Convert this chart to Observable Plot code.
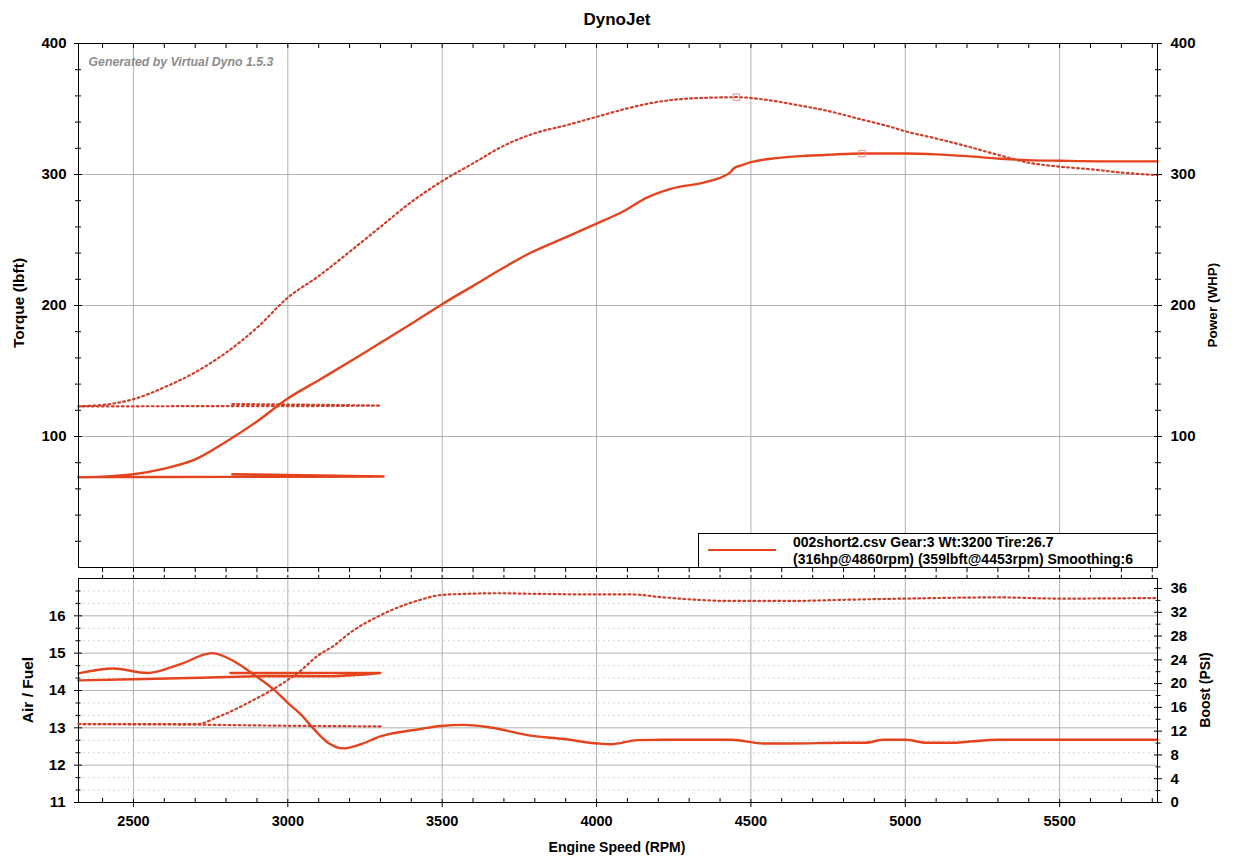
<!DOCTYPE html>
<html>
<head>
<meta charset="utf-8">
<script src="https://cdn.jsdelivr.net/npm/d3@7"></script>
<script src="https://cdn.jsdelivr.net/npm/@observablehq/plot@0.6"></script>
<style>
  body { margin: 0; background: #fff; }
  #wrap { position: relative; width: 1234px; height: 866px; font-family: "Liberation Sans", Arial, sans-serif; font-weight: bold; color: #000; overflow: hidden; }
  #wrap svg.plot { position: absolute; left: 0; }
  .lbl { position: absolute; white-space: nowrap; font-weight: bold; }
  .rot { transform: translate(-50%, -50%) rotate(-90deg); }
</style>
</head>
<body>
<div id="wrap"></div>
<script>
// ---------- data ----------
const rpmDomain = [2322, 5817];
const rpmMajor = [2500, 3000, 3500, 4000, 4500, 5000, 5500];

// Torque (dotted) – return trace at low rpm, then the pull
const torqueRetRpm  = [2820, 3050, 3300, 3050, 2820, 2600, 2322];
const torqueRetLbft = [124.8, 124.3, 123.6, 123.2, 123.2, 123.1, 123.0];
const torqueRunRpm  = [2322, 2430, 2500, 2600, 2700, 2800, 2900, 3000, 3100, 3200, 3300, 3400, 3500, 3600, 3700, 3800, 3900, 4000, 4100, 4200, 4300, 4350, 4453, 4550, 4650, 4750, 4850, 4950, 5000, 5100, 5200, 5300, 5400, 5500, 5600, 5700, 5817];
const torqueRunLbft = [123.0, 125.0, 128.5, 137.5, 149, 164, 183, 206, 222.5, 241, 260, 279, 295, 308.5, 322, 331.5, 337.5, 344, 350.5, 355.5, 358, 358.5, 359, 357, 353, 348.5, 342.5, 336.5, 333, 327.5, 321.5, 315, 309, 306, 304, 301.5, 299.5];

// Power (solid)
const powerRetRpm = [2820, 3050, 3310, 3050, 2820, 2600, 2322];
const powerRetHp  = [71.2, 70.5, 69.5, 69.2, 69.2, 69.1, 69.0];
const powerRunRpm = [2322, 2400, 2500, 2600, 2700, 2800, 2900, 3000, 3100, 3200, 3300, 3400, 3500, 3600, 3700, 3780, 3900, 4000, 4080, 4165, 4240, 4350, 4410, 4430, 4446, 4470, 4500, 4565, 4660, 4760, 4860, 5000, 5100, 5200, 5310, 5400, 5500, 5650, 5817];
const powerRunHp  = [69.0, 69.4, 71.2, 75.5, 82.5, 96, 111.5, 129, 143, 157, 171.5, 186, 201, 215, 229, 239.5, 252, 262.5, 271, 282.5, 289, 294, 298.5, 301, 305, 307, 309.4, 312, 314, 315.2, 316, 316, 315.4, 314, 312, 311, 310.5, 310, 310];

// Peaks (markers + legend)
const peakTorque = {rpm: 4453, v: 359};
const peakPower  = {rpm: 4860, v: 316};

// Air / Fuel (solid)
const afRetRpm = [2814, 3050, 3300, 3250, 3150, 2934, 2717, 2500, 2322];
const afRetVal = [14.47, 14.47, 14.47, 14.43, 14.38, 14.39, 14.34, 14.30, 14.27];
const afRunRpm = [2322, 2435, 2545, 2650, 2755, 2824, 2889, 2954, 3000, 3042, 3084, 3129, 3181, 3236, 3300, 3430, 3495, 3570, 3657, 3787, 3894, 4004, 4046, 4133, 4218, 4435, 4542, 4629, 4800, 4870, 4930, 5000, 5070, 5150, 5250, 5300, 5817];
const afRunVal = [14.46, 14.59, 14.47, 14.70, 15.00, 14.79, 14.43, 14.03, 13.67, 13.36, 12.97, 12.61, 12.45, 12.56, 12.77, 12.97, 13.05, 13.08, 13.01, 12.79, 12.70, 12.58, 12.56, 12.67, 12.68, 12.68, 12.58, 12.58, 12.60, 12.60, 12.68, 12.68, 12.60, 12.60, 12.66, 12.68, 12.68];

// Boost (dotted)
const boostRetRpm = [3300, 3000, 2700, 2322];
const boostRetPsi = [12.8, 12.9, 13.1, 13.2];
const boostRunRpm = [2322, 2500, 2707, 2772, 2880, 2988, 3042, 3097, 3150, 3203, 3300, 3430, 3495, 3580, 3680, 3800, 4004, 4111, 4218, 4435, 4629, 4800, 5000, 5300, 5500, 5817];
const boostRunPsi = [13.2, 13.2, 13.2, 14.35, 17.0, 20.2, 22.2, 24.7, 26.4, 28.6, 31.5, 34.1, 34.9, 35.1, 35.2, 35.1, 35.0, 35.0, 34.5, 33.9, 33.9, 34.1, 34.3, 34.5, 34.3, 34.4];

// axes / ticks
const torqueTicks = [100, 200, 300, 400];
const afTicks = [11, 12, 13, 14, 15, 16];
const boostTicks = [0, 4, 8, 12, 16, 20, 24, 28, 32, 36];
const runInfo = {file: "002short2.csv", gear: 3, wt: 3200, tire: 26.7, smoothing: 6};

// ---------- styling ----------
const RED = "#e5431d";
const REDDOT = "#cf3e28";
const GRID = "#b2b2b2";
const FONT = '"Liberation Sans", Arial, sans-serif';
const DOTS = {strokeWidth: 2.2, strokeDasharray: "1.8,3.2"};
const tbl = (xs, ys) => xs.map((x, i) => ({rpm: x, v: ys[i]}));
const minor = (lo, hi, step, skip) => d3.range(lo, hi + step / 2, step).map(v => +v.toFixed(4)).filter(v => !skip.some(s => Math.abs(s - v) < 1e-6));
const blank = () => "";
const plain = d => String(d);
const svgStyle = {fontFamily: FONT, fontWeight: "bold", fontSize: "15px", background: "transparent", color: "#000", overflow: "visible"};

const wrap = document.getElementById("wrap");

// ---------- top panel ----------
const topPlot = Plot.plot({
  width: 1234, height: 575,
  marginTop: 43, marginBottom: 8, marginLeft: 78, marginRight: 77,
  style: svgStyle,
  x: {domain: rpmDomain, axis: null},
  y: {domain: [0, 400], axis: null},
  marks: [
    Plot.ruleX(rpmMajor, {stroke: GRID}),
    Plot.ruleY([100, 200, 300], {stroke: GRID}),
    Plot.text(["Generated by Virtual Dyno 1.5.3"], {frameAnchor: "top-left", dx: 10, dy: 14, textAnchor: "start", fontStyle: "italic", fontSize: 12.3, fill: "#8c8c8c"}),
    Plot.line(tbl(torqueRetRpm, torqueRetLbft), {x: "rpm", y: "v", stroke: REDDOT, ...DOTS}),
    Plot.line(tbl(torqueRunRpm, torqueRunLbft), {x: "rpm", y: "v", stroke: REDDOT, ...DOTS, curve: "monotone-x"}),
    Plot.line(tbl(powerRetRpm, powerRetHp), {x: "rpm", y: "v", stroke: RED, strokeWidth: 2.4}),
    Plot.line(tbl(powerRunRpm, powerRunHp), {x: "rpm", y: "v", stroke: RED, strokeWidth: 2.4, curve: "monotone-x"}),
    Plot.dot([peakTorque, peakPower], {x: "rpm", y: "v", symbol: "square", r: 3.6, stroke: "#ee8a80", strokeWidth: 1, fill: "none"}),
    Plot.frame({stroke: "#000", strokeWidth: 1}),
    // left axis
    Plot.axisY(torqueTicks, {anchor: "left", tickSize: 8, dx: 4, tickPadding: 8, label: null}),
    Plot.axisY(minor(20, 380, 20, torqueTicks), {anchor: "left", tickSize: 6, dx: 3, tickFormat: blank, label: null}),
    // right axis
    Plot.axisY(torqueTicks, {anchor: "right", tickSize: 8, dx: -4, tickPadding: 9, label: null}),
    Plot.axisY(minor(20, 380, 20, torqueTicks), {anchor: "right", tickSize: 6, dx: -3, tickFormat: blank, label: null}),
    // top-edge ticks (inside) and bottom-edge ticks (outside)
    Plot.axisX(minor(2400, 5800, 100, []), {anchor: "top", tickSize: 4, dy: 4, tickFormat: blank, label: null}),
    Plot.axisX(minor(2400, 5800, 100, []), {anchor: "bottom", tickSize: 5, tickFormat: blank, label: null})
  ]
});
topPlot.classList.add("plot");
topPlot.style.top = "0px";
wrap.appendChild(topPlot);

// ---------- bottom panel (Air / Fuel) ----------
const botPlot = Plot.plot({
  width: 1234, height: 296,
  marginTop: 8, marginBottom: 64, marginLeft: 78, marginRight: 77,
  style: svgStyle,
  x: {domain: rpmDomain, axis: null},
  y: {domain: [11, 17], axis: null},
  marks: [
    Plot.ruleY(minor(11, 17, 1 / 3, afTicks.concat([17])), {stroke: "#c4c4c4", strokeDasharray: "1.5,3.5"}),
    Plot.ruleY([12, 13, 14, 15, 16], {stroke: GRID}),
    Plot.ruleX(rpmMajor, {stroke: GRID}),
    Plot.line(tbl(afRetRpm, afRetVal), {x: "rpm", y: "v", stroke: RED, strokeWidth: 2.4}),
    Plot.line(tbl(afRunRpm, afRunVal), {x: "rpm", y: "v", stroke: RED, strokeWidth: 2.4, curve: "monotone-x"}),
    Plot.frame({stroke: "#000", strokeWidth: 1}),
    Plot.axisY(afTicks, {anchor: "left", tickSize: 8, dx: 4, tickPadding: 9, label: null}),
    Plot.axisY(minor(11, 17, 1 / 3, afTicks.concat([17])), {anchor: "left", tickSize: 5, dx: 2.5, tickFormat: blank, label: null}),
    Plot.axisX(rpmMajor, {anchor: "bottom", tickSize: 8, dy: -3, tickPadding: 8, fontSize: 14.5, tickFormat: plain, label: null}),
    Plot.axisX(minor(2400, 5800, 100, rpmMajor), {anchor: "bottom", tickSize: 4, dy: -4, tickFormat: blank, label: null}),
    Plot.axisX(minor(2400, 5800, 100, []), {anchor: "top", tickSize: 4, tickFormat: blank, label: null})
  ]
});
botPlot.classList.add("plot");
botPlot.style.top = "570px";
wrap.appendChild(botPlot);

// ---------- boost overlay (own scale, right axis) ----------
const boostPlot = Plot.plot({
  width: 1234, height: 296,
  marginTop: 8, marginBottom: 64, marginLeft: 78, marginRight: 77,
  style: svgStyle,
  x: {domain: rpmDomain, axis: null},
  y: {domain: [0, 37.68], axis: null},
  marks: [
    Plot.line(tbl(boostRetRpm, boostRetPsi), {x: "rpm", y: "v", stroke: REDDOT, ...DOTS}),
    Plot.line(tbl(boostRunRpm, boostRunPsi), {x: "rpm", y: "v", stroke: REDDOT, ...DOTS, curve: "monotone-x"}),
    Plot.axisY(boostTicks, {anchor: "right", tickSize: 8, dx: -4, tickPadding: 9, label: null}),
    Plot.axisY(minor(2, 36, 4, []), {anchor: "right", tickSize: 5, dx: -2.5, tickFormat: blank, label: null})
  ]
});
boostPlot.classList.add("plot");
boostPlot.style.top = "570px";
wrap.appendChild(boostPlot);

// ---------- titles & labels ----------
function addLabel(text, css, cls = "lbl") {
  const d = document.createElement("div");
  d.className = cls;
  d.textContent = text;
  Object.assign(d.style, css);
  wrap.appendChild(d);
  return d;
}
addLabel("DynoJet", {left: "617px", top: "20px", fontSize: "17px", transform: "translate(-50%, -50%)"});
addLabel("Torque (lbft)", {left: "19px", top: "303px", fontSize: "15.5px"}, "lbl rot");
addLabel("Power (WHP)", {left: "1212px", top: "305px", fontSize: "13.5px"}, "lbl rot");
addLabel("Air / Fuel", {left: "28px", top: "690px", fontSize: "15.5px"}, "lbl rot");
addLabel("Boost (PSI)", {left: "1205px", top: "690px", fontSize: "14px"}, "lbl rot");
addLabel("Engine Speed (RPM)", {left: "617px", top: "847px", fontSize: "14px", transform: "translate(-50%, -50%)"});

// ---------- legend ----------
const leg = document.createElement("div");
Object.assign(leg.style, {position: "absolute", left: "698px", top: "533px", width: "460px", height: "35px", border: "1px solid #000", background: "#fff", boxSizing: "border-box"});
leg.innerHTML = `<svg width="72" height="30" style="position:absolute;left:8px;top:1px"><line x1="1" x2="69" y1="15" y2="15" stroke="${RED}" stroke-width="2"/></svg>`;
const legText = document.createElement("div");
Object.assign(legText.style, {position: "absolute", left: "94px", top: "0px", fontSize: "14px", lineHeight: "16.5px", whiteSpace: "nowrap", fontWeight: "bold"});
legText.innerHTML = `${runInfo.file} Gear:${runInfo.gear} Wt:${runInfo.wt} Tire:${runInfo.tire}<br>(${peakPower.v}hp@${peakPower.rpm}rpm) (${peakTorque.v}lbft@${peakTorque.rpm}rpm) Smoothing:${runInfo.smoothing}`;
leg.appendChild(legText);
wrap.appendChild(leg);
</script>
</body>
</html>
